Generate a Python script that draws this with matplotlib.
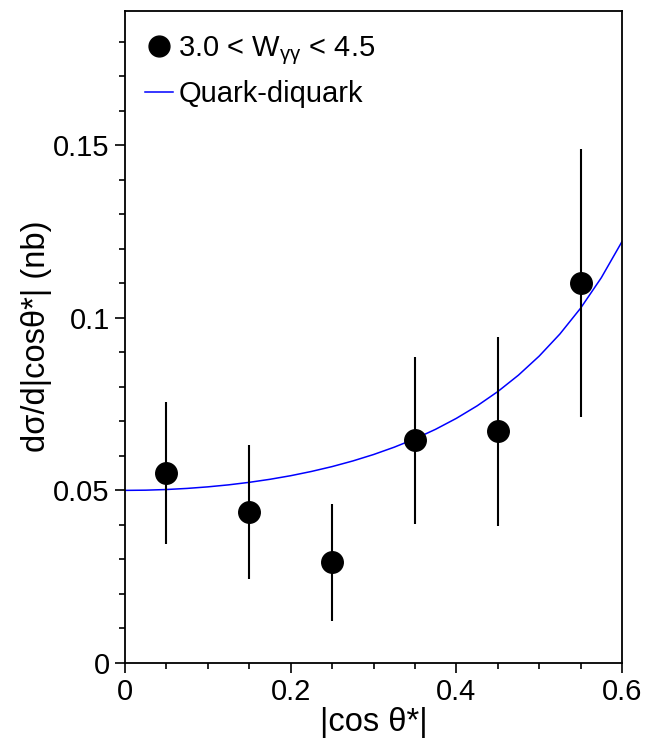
import matplotlib
matplotlib.use("Agg")
import matplotlib.pyplot as plt
from matplotlib.lines import Line2D
from matplotlib.ticker import MultipleLocator

plt.rcParams['font.family'] = ['Liberation Sans', 'DejaVu Sans']
plt.rcParams['mathtext.fontset'] = 'custom'
plt.rcParams['mathtext.rm'] = 'Liberation Sans'
plt.rcParams['mathtext.it'] = 'Liberation Sans'

# Data points
x_pts = [0.05, 0.15, 0.25, 0.35, 0.45, 0.55]
y_pts = [0.0551, 0.0438, 0.0293, 0.0646, 0.0672, 0.1102]
y_hi = [0.0757, 0.0631, 0.0462, 0.0887, 0.0945, 0.1490]
y_lo = [0.0344, 0.0243, 0.0122, 0.0402, 0.0397, 0.0713]

# Quark-diquark curve
x_curve = [0.0, 0.025, 0.05, 0.075, 0.1, 0.125, 0.15, 0.175, 0.2, 0.225, 0.25, 0.275,
           0.3, 0.325, 0.35, 0.375, 0.4, 0.425, 0.45, 0.475, 0.5, 0.525, 0.55, 0.575, 0.6]
y_curve = [0.0500, 0.05006, 0.05025, 0.05057, 0.05102, 0.05160, 0.05233, 0.05321, 0.05425,
           0.05548, 0.05689, 0.05852, 0.06038, 0.06251, 0.06493, 0.06770, 0.07086, 0.07447,
           0.07861, 0.08338, 0.08889, 0.09529, 0.10277, 0.11159, 0.12207]

err_lo = [y - l for y, l in zip(y_pts, y_lo)]
err_hi = [h - y for y, h in zip(y_pts, y_hi)]

fig = plt.figure(figsize=(6.62, 7.46), dpi=100)
ax = fig.add_axes([125/662, 83/746, 497/662, 652.5/746])

ax.plot(x_curve, y_curve, color='#0000ff', lw=1.1, zorder=2)
ax.errorbar(x_pts, y_pts, yerr=[err_lo, err_hi], fmt='o', color='black',
            markersize=15.5, elinewidth=1.5, capsize=0, zorder=3)

ax.set_xlim(0, 0.6)
ax.set_ylim(0, 0.189)
ax.xaxis.set_minor_locator(MultipleLocator(0.05))
ax.yaxis.set_minor_locator(MultipleLocator(0.01))
ax.set_xticks([0, 0.2, 0.4, 0.6])
ax.set_xticklabels(['0', '0.2', '0.4', '0.6'])
ax.set_yticks([0, 0.05, 0.1, 0.15])
ax.set_yticklabels(['0', '0.05', '0.1', '0.15'])
ax.tick_params(which='both', direction='out', labelsize=21, width=1.2, top=False, right=False)
ax.tick_params(which='major', length=7, pad=4)
ax.tick_params(which='minor', length=4)
for s in ax.spines.values():
    s.set_linewidth(1.3)

ax.set_xlabel('|cos θ*|', fontsize=23.5, va='center')
ax.xaxis.set_label_coords(0.5, (663 - 722) / 652.5)
ax.set_ylabel('dσ/d|cosθ*| (nb)', fontsize=23.5, va='center')
ax.yaxis.set_label_coords((37 - 125) / 497, 0.5)

handles = [Line2D([], [], marker='o', color='black', ls='none', markersize=15),
           Line2D([], [], color='#0000ff', lw=1.1)]
labels = [r'3.0 < W$_{\mathrm{γγ}}$ < 4.5', 'Quark-diquark']
ax.legend(handles, labels, loc='upper left', frameon=False, fontsize=21,
          handlelength=0.96, handletextpad=0.17, borderaxespad=0.3, labelspacing=0.45,
          bbox_to_anchor=(0.0, 0.995))

fig.savefig('out.png', dpi=100)
